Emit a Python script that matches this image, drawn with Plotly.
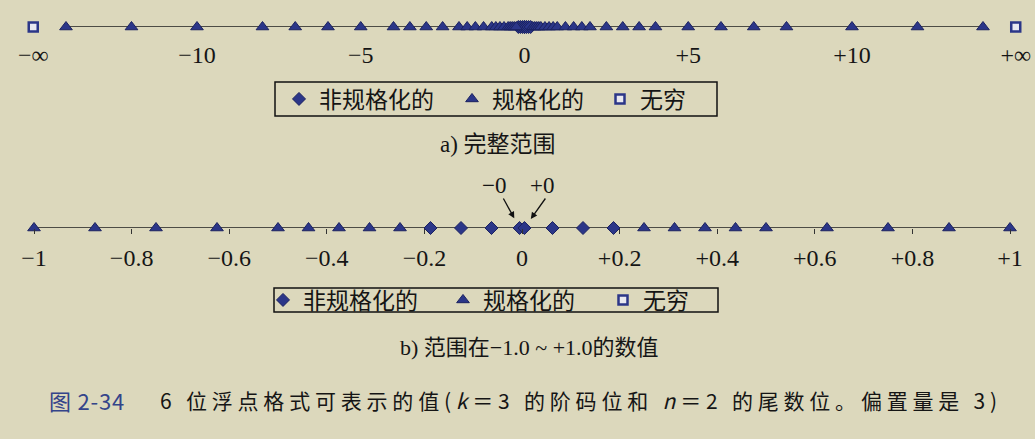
import plotly.graph_objects as go

# ---------------- data (6-bit float, k=3, n=2, bias=3) ----------------
# positive denormalized values (negatives mirror them)
denorm_pos = [0.0625, 0.125, 0.1875]
# -0 and +0 as drawn in the figure (slightly apart so both are visible)
zero_vals = [-0.005, 0.005]
# positive normalized values
norm_pos = [0.25, 0.3125, 0.375, 0.4375, 0.5, 0.625, 0.75, 0.875,
            1.0, 1.25, 1.5, 1.75, 2.0, 2.5, 3.0, 3.5,
            4.0, 5.0, 6.0, 7.0, 8.0, 10.0, 12.0, 14.0]
# position at which ±infinity is drawn on the full-range line
inf_vals = [-15, 15]

ticks_a = [-15, -10, -5, 0, 5, 10, 15]
ticklabels_a = ["\u2212\u221e", "\u221210", "\u22125", "0", "+5", "+10", "+\u221e"]
ticks_b = [-1, -0.8, -0.6, -0.4, -0.2, 0, 0.2, 0.4, 0.6, 0.8, 1]
ticklabels_b = ["\u22121", "\u22120.8", "\u22120.6", "\u22120.4", "\u22120.2", "0",
                "+0.2", "+0.4", "+0.6", "+0.8", "+1"]

legend_names = ["非规格化的", "规格化的", "无穷"]

denorm_all = [-v for v in denorm_pos[::-1]] + zero_vals + denorm_pos
norm_all = [-v for v in norm_pos[::-1]] + norm_pos
norm_b = [v for v in norm_all if abs(v) <= 1]

# ---------------- styling ----------------
BG = "#dcd8bc"
NAVY = "#2b3688"
DARK = "#1b2260"
INK = "#151515"
FONT = "Liberation Serif, Noto Sans CJK SC"
CJK = "Noto Sans CJK SC"
W, H = 1035, 439


def py(p):  # pixel-from-top -> paper
    return 1 - p / H


fig = go.Figure()


def add_panel(xa, ya, xmin, xmax, den, nor, inf, legends):
    fig.add_trace(go.Scatter(x=[xmin, xmax], y=[0, 0], mode="lines",
                             line=dict(color="#1e1e1e", width=1.3),
                             xaxis=xa, yaxis=ya, showlegend=False,
                             cliponaxis=False, hoverinfo="skip"))
    fig.add_trace(go.Scatter(x=den, y=[0] * len(den), mode="markers",
                             name=legend_names[0], legend=legends[0],
                             marker=dict(symbol="diamond", size=10, color=NAVY,
                                         line=dict(color=DARK, width=1)),
                             xaxis=xa, yaxis=ya, cliponaxis=False))
    fig.add_trace(go.Scatter(x=nor, y=[0] * len(nor), mode="markers",
                             name=legend_names[1], legend=legends[1],
                             marker=dict(symbol="triangle-up", size=11, color=NAVY,
                                         line=dict(color=DARK, width=1)),
                             xaxis=xa, yaxis=ya, cliponaxis=False))
    fig.add_trace(go.Scatter(x=inf if inf else [None],
                             y=[0] * len(inf) if inf else [None],
                             mode="markers",
                             name=legend_names[2], legend=legends[2],
                             marker=dict(symbol="square", size=9, color="#e8e8f0",
                                         line=dict(color=NAVY, width=2.5)),
                             xaxis=xa, yaxis=ya, cliponaxis=False))


add_panel("x", "y", min(norm_all), max(norm_all), denorm_all, norm_all, inf_vals,
          ["legend", "legend2", "legend3"])
add_panel("x2", "y2", min(norm_b), max(norm_b), denorm_all, norm_b, [],
          ["legend4", "legend5", "legend6"])

axis_common = dict(showgrid=False, zeroline=False, showline=False,
                   tickfont=dict(family=FONT, size=24, color=INK))


def leg(xpx, ycpx):
    return dict(x=xpx / W, y=py(ycpx), xanchor="left", yanchor="middle",
                orientation="h", borderwidth=0, bgcolor="rgba(0,0,0,0)",
                font=dict(family=FONT, size=23, color=INK))


fig.update_layout(
    width=W, height=H,
    margin=dict(l=0, r=0, t=0, b=0),
    paper_bgcolor=BG, plot_bgcolor=BG,
    xaxis=dict(domain=[0, 1], range=[-16.015, 15.588], anchor="y",
               tickmode="array", tickvals=ticks_a, ticktext=ticklabels_a,
               ticks="", ticklabelstandoff=11, **axis_common),
    yaxis=dict(domain=[py(27), py(5)], range=[0, 1], visible=False),
    xaxis2=dict(domain=[0, 1], range=[-1.0697, 1.0512], anchor="y2",
                tickmode="array", tickvals=ticks_b, ticktext=ticklabels_b,
                ticks="outside", ticklen=5, tickwidth=1, tickcolor="#333",
                ticklabelstandoff=3, **axis_common),
    yaxis2=dict(domain=[py(228), py(200)], range=[0, 1], visible=False),
    legend=leg(279, 99), legend2=leg(452, 99), legend3=leg(600, 99),
    legend4=leg(263, 300), legend5=leg(443, 300), legend6=leg(603, 300),
    showlegend=True,
    shapes=[
        dict(type="rect", xref="paper", yref="paper", x0=275 / W, x1=717 / W,
             y0=py(116), y1=py(82), line=dict(color="#111", width=1.5)),
        dict(type="rect", xref="paper", yref="paper", x0=274 / W, x1=718 / W,
             y0=py(312), y1=py(288), line=dict(color="#111", width=1.5)),
    ],
)

mid = dict(xref="paper", yref="paper", yanchor="middle", showarrow=False)
ann = []
ann.append(dict(text="a) 完整范围", x=498 / W, y=py(144), xanchor="center",
                font=dict(family=FONT, size=23, color=INK), **mid))
ann.append(dict(text="b) 范围在\u22121.0 ~ +1.0的数值", x=529 / W, y=py(347),
                xanchor="center", font=dict(family=FONT, size=22, color=INK), **mid))
ann.append(dict(text="\u22120", x=-0.058, y=py(185), xref="x2", yref="paper",
                yanchor="middle", showarrow=False,
                font=dict(family=FONT, size=23, color=INK)))
ann.append(dict(text="+0", x=0.04, y=py(185), xref="x2", yref="paper",
                yanchor="middle", showarrow=False,
                font=dict(family=FONT, size=23, color=INK)))
ann.append(dict(text="", x=zero_vals[0], y=0, xref="x2", yref="y2", showarrow=True,
                ax=-17, ay=-31, arrowhead=2, arrowsize=1, arrowwidth=1.3,
                arrowcolor="#111", standoff=11))
ann.append(dict(text="", x=zero_vals[1], y=0, xref="x2", yref="y2", showarrow=True,
                ax=22, ay=-31, arrowhead=2, arrowsize=1, arrowwidth=1.3,
                arrowcolor="#111", standoff=11))
ann.append(dict(text='<span style="letter-spacing:0.8px">图 2-34</span>', x=47 / W,
                y=py(400), xanchor="left",
                font=dict(family=CJK, size=22, color="#34448a"), **mid))
ann.append(dict(text='<span style="letter-spacing:4.8px">6 位浮点格式可表示的值(<i>k</i>＝3 的阶码位和 <i>n</i>＝2 的尾数位。偏置量是 3)</span>',
                x=158 / W, y=py(400), xanchor="left",
                font=dict(family=CJK, size=21, color=INK), **mid))
fig.update_layout(annotations=ann)

fig.write_html("out.html", config={"displayModeBar": False},
               post_script="document.body.style.margin='0px';"
                           "document.body.style.background='" + BG + "';")
